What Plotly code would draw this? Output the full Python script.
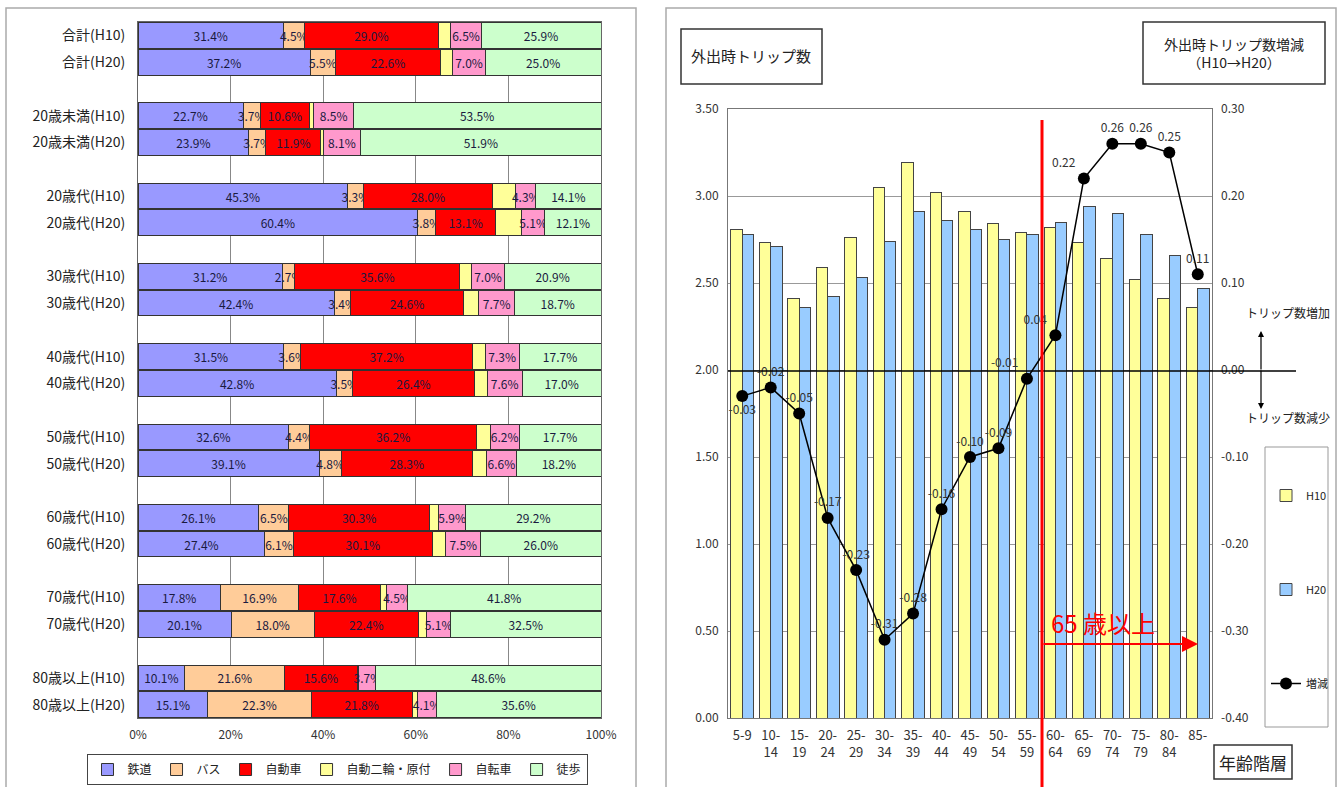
import plotly.graph_objects as go

W, H = 1344, 787
FONT = "Noto Sans CJK JP"

# ---------------- Left chart data ----------------
rows = ["合計(H10)", "合計(H20)", "20歳未満(H10)", "20歳未満(H20)", "20歳代(H10)", "20歳代(H20)",
        "30歳代(H10)", "30歳代(H20)", "40歳代(H10)", "40歳代(H20)", "50歳代(H10)", "50歳代(H20)",
        "60歳代(H10)", "60歳代(H20)", "70歳代(H10)", "70歳代(H20)", "80歳以上(H10)", "80歳以上(H20)"]
modes = ["鉄道", "バス", "自動車", "自動二輪・原付", "自転車", "徒歩"]
rail = [31.4, 37.2, 22.7, 23.9, 45.3, 60.4, 31.2, 42.4, 31.5, 42.8, 32.6, 39.1, 26.1, 27.4, 17.8, 20.1, 10.1, 15.1]
bus = [4.5, 5.5, 3.7, 3.7, 3.3, 3.8, 2.7, 3.4, 3.6, 3.5, 4.4, 4.8, 6.5, 6.1, 16.9, 18.0, 21.6, 22.3]
car = [29.0, 22.6, 10.6, 11.9, 28.0, 13.1, 35.6, 24.6, 37.2, 26.4, 36.2, 28.3, 30.3, 30.1, 17.6, 22.4, 15.6, 21.8]
moto = [2.7, 2.7, 1.0, 0.5, 5.0, 5.5, 2.6, 3.2, 2.7, 2.7, 2.9, 3.0, 2.0, 2.9, 1.4, 1.9, 0.4, 1.1]
bike = [6.5, 7.0, 8.5, 8.1, 4.3, 5.1, 7.0, 7.7, 7.3, 7.6, 6.2, 6.6, 5.9, 7.5, 4.5, 5.1, 3.7, 4.1]
walk = [25.9, 25.0, 53.5, 51.9, 14.1, 12.1, 20.9, 18.7, 17.7, 17.0, 17.7, 18.2, 29.2, 26.0, 41.8, 32.5, 48.6, 35.6]
mode_colors = ["#9999ff", "#ffcc99", "#ff0000", "#ffff99", "#ff99cc", "#ccffcc"]
x_ticks_left = ["0%", "20%", "40%", "60%", "80%", "100%"]

# ---------------- Right chart data ----------------
ages = ["5-9", "10-14", "15-19", "20-24", "25-29", "30-34", "35-39", "40-44", "45-49",
        "50-54", "55-59", "60-64", "65-69", "70-74", "75-79", "80-84", "85-"]
age_ticks = ["5-9", "10-<br>14", "15-<br>19", "20-<br>24", "25-<br>29", "30-<br>34", "35-<br>39", "40-<br>44",
             "45-<br>49", "50-<br>54", "55-<br>59", "60-<br>64", "65-<br>69", "70-<br>74", "75-<br>79",
             "80-<br>84", "85-"]
h10 = [2.81, 2.73, 2.41, 2.59, 2.76, 3.05, 3.19, 3.02, 2.91, 2.84, 2.79, 2.82, 2.73, 2.64, 2.52, 2.41, 2.36]
h20 = [2.78, 2.71, 2.36, 2.42, 2.53, 2.74, 2.91, 2.86, 2.81, 2.75, 2.78, 2.85, 2.94, 2.90, 2.78, 2.66, 2.47]
diff = [-0.03, -0.02, -0.05, -0.17, -0.23, -0.31, -0.28, -0.16, -0.10, -0.09, -0.01, 0.04, 0.22, 0.26, 0.26, 0.25, 0.11]
left_ticks = [0, 0.5, 1.0, 1.5, 2.0, 2.5, 3.0, 3.5]
right_ticks = [-0.4, -0.3, -0.2, -0.1, 0.0, 0.1, 0.2, 0.3]
right_ticktext = ["-0.40", "-0.30", "-0.20", "-0.10", "0.00", "0.10", "0.20", "0.30"]


def px(x):
    return x / W


def py(y):
    return 1 - y / H


fig = go.Figure()

# positions for left chart rows (gap row between each group)
ypos = []
for i in range(len(rows)):
    ypos.append((i // 2) * 3 + (i % 2))

series = [rail, bus, car, moto, bike, walk]
for name, vals, col in zip(modes, series, mode_colors):
    if name == "自動二輪・原付":
        txt = ["" for v in vals]
    else:
        txt = [f"{v:.1f}%" for v in vals]
    fig.add_trace(go.Bar(
        x=vals, y=ypos, orientation="h", name=name, text=txt,
        textposition="inside", insidetextanchor="middle", textangle=0, constraintext="none",
        textfont=dict(size=12, color="#1a1a40", family=FONT),
        marker=dict(color=col, line=dict(color="#333333", width=1)),
        xaxis="x", yaxis="y", legend="legend", width=0.96, offsetgroup="L",
        hoverinfo="skip"))

# right chart bars
fig.add_trace(go.Bar(x=ages, y=h10, name="H10", marker=dict(color="#ffff99", line=dict(color="#444", width=1)),
                     xaxis="x2", yaxis="y2", legend="legend2", legendgroup="a", offsetgroup="h10"))
fig.add_trace(go.Bar(x=ages, y=h20, name="H20", marker=dict(color="#99ccff", line=dict(color="#444", width=1)),
                     xaxis="x2", yaxis="y2", legend="legend2", legendgroup="b", offsetgroup="h20"))

tpos = ["bottom center"] + ["top center"] * 9 + ["top left", "top left", "top left"] + ["top center"] * 4
fig.add_trace(go.Scatter(
    x=ages, y=diff, name="増減", mode="lines+markers+text",
    text=[f"{v:.2f}" for v in diff], textposition=tpos,
    textfont=dict(size=12, color="#333", family=FONT),
    line=dict(color="black", width=1.5), marker=dict(color="black", size=12),
    xaxis="x2", yaxis="y3", legend="legend2", legendgroup="c", cliponaxis=False))

shapes = []
annotations = []


def note(x, y, text, size, color="#222", xanchor="center"):
    annotations.append(dict(xref="paper", yref="paper", x=px(x), y=py(y), text=text,
                            xanchor=xanchor, yanchor="middle", showarrow=False,
                            font=dict(size=size, color=color, family=FONT)))


# panel borders
shapes.append(dict(type="rect", xref="paper", yref="paper", x0=px(6), x1=px(636), y0=py(795), y1=py(8),
                   line=dict(color="#aaaaaa", width=1.5), layer="below"))
shapes.append(dict(type="rect", xref="paper", yref="paper", x0=px(666), x1=px(1336), y0=py(795), y1=py(8),
                   line=dict(color="#aaaaaa", width=1.5), layer="below"))

# right legend frame
shapes.append(dict(type="rect", xref="paper", yref="paper", x0=px(1265), x1=px(1328), y0=py(727), y1=py(447),
                   line=dict(color="#999", width=1), fillcolor="white", layer="below"))

# title boxes
shapes.append(dict(type="rect", xref="paper", yref="paper", x0=px(681), x1=px(822), y0=py(84), y1=py(29),
                   line=dict(color="#333", width=1.5)))
note(751, 56, "外出時トリップ数", 15)
shapes.append(dict(type="rect", xref="paper", yref="paper", x0=px(1143), x1=px(1325), y0=py(84), y1=py(22),
                   line=dict(color="#333", width=1.5)))
note(1234, 53, "外出時トリップ数増減<br>（H10→H20）", 14)

# age group box
shapes.append(dict(type="rect", xref="paper", yref="paper", x0=px(1214), x1=px(1292), y0=py(779), y1=py(745),
                   line=dict(color="#333", width=1.5)))
note(1253, 762, "年齢階層", 17)

# zero line across
shapes.append(dict(type="line", xref="paper", yref="paper", x0=px(728), x1=px(1296), y0=py(371), y1=py(371),
                   line=dict(color="black", width=1.5)))
# up/down arrows
annotations.append(dict(xref="paper", yref="paper", x=px(1261), y=py(331), ax=0, ay=40,
                        showarrow=True, arrowhead=2, arrowsize=1, arrowwidth=1.2, arrowcolor="black", text=""))
annotations.append(dict(xref="paper", yref="paper", x=px(1261), y=py(409), ax=0, ay=-40,
                        showarrow=True, arrowhead=2, arrowsize=1, arrowwidth=1.2, arrowcolor="black", text=""))
note(1288, 312, "トリップ数増加", 12)
note(1288, 418, "トリップ数減少", 12)

# red vertical line and arrow
shapes.append(dict(type="line", xref="paper", yref="paper", x0=px(1042), x1=px(1042), y0=py(787), y1=py(120),
                   line=dict(color="#ff0000", width=3)))
annotations.append(dict(xref="paper", yref="paper", x=px(1198), y=py(644), ax=-156, ay=0,
                        showarrow=True, arrowhead=2, arrowsize=1.6, arrowwidth=2, arrowcolor="#ff0000", text=""))
note(1049, 622, "65 歳以上", 24, color="#ff0000", xanchor="left")

fig.update_layout(
    width=W, height=H, autosize=False,
    margin=dict(l=0, r=0, t=0, b=0, pad=0),
    paper_bgcolor="white", plot_bgcolor="white",
    font=dict(family=FONT, color="#222"),
    barmode="stack",
    bargap=0.2, bargroupgap=0.0,
    showlegend=True,
    xaxis=dict(domain=[px(138), px(601)], range=[0, 100], tickvals=[0, 20, 40, 60, 80, 100],
               ticktext=x_ticks_left, showgrid=True, gridcolor="#888", gridwidth=1,
               zeroline=False, showline=True, linecolor="#666", mirror=True, automargin=False,
               tickfont=dict(size=12, color="#333"), ticklabelstandoff=6, anchor="y"),
    yaxis=dict(domain=[py(718), py(22)], range=[25.5, -0.5], tickvals=ypos, ticktext=rows,
               showgrid=False, zeroline=False, showline=True, linecolor="#666", mirror=True, automargin=False,
               tickfont=dict(size=14, color="#222"), ticklabelstandoff=9, anchor="x"),
    xaxis2=dict(domain=[px(728), px(1212)], anchor="y2", range=[-0.5, 16.5], tickvals=ages, ticktext=age_ticks,
                tickfont=dict(size=13, color="#333"), showline=True, linecolor="#777", mirror=True,
                ticks="", showgrid=False, tickangle=0, automargin=False, ticklabelstandoff=5),
    yaxis2=dict(domain=[py(718), py(109)], anchor="x2", range=[0, 3.5], tickvals=left_ticks,
                tickformat=".2f", showgrid=True, gridcolor="#999", gridwidth=1, zeroline=False,
                showline=True, linecolor="#777", mirror=True, tickfont=dict(size=12, color="#333"),
                ticklabelstandoff=6, automargin=False),
    yaxis3=dict(overlaying="y2", side="right", anchor="x2", range=[-0.4, 0.3], tickvals=right_ticks,
                ticktext=right_ticktext, showgrid=False, zeroline=False, showline=False,
                tickfont=dict(size=12, color="#333"), ticklabelstandoff=8, automargin=False),
    legend=dict(orientation="h", x=px(337), xanchor="center", y=py(785), yanchor="bottom",
                bordercolor="#444", borderwidth=1, bgcolor="white",
                font=dict(size=12, color="#222", family=FONT), itemwidth=30, traceorder="normal"),
    legend2=dict(orientation="v", x=px(1266), xanchor="left", y=py(481), yanchor="top",
                 borderwidth=0, bgcolor="rgba(0,0,0,0)", tracegroupgap=75,
                 font=dict(size=11, color="#222", family=FONT), itemwidth=30, traceorder="grouped"),
    shapes=shapes, annotations=annotations,
)

fig.write_html("out.html", config={"displayModeBar": False},
               post_script="document.body.style.margin='0px';document.body.style.overflow='hidden';")
